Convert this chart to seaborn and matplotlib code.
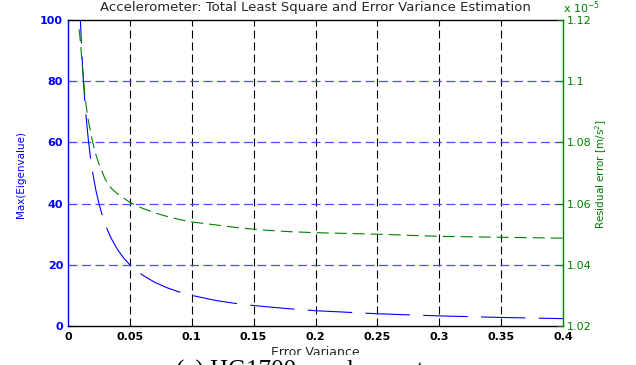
import matplotlib
matplotlib.use("Agg")
import matplotlib.pyplot as plt
import matplotlib.ticker as mticker
import numpy as np
import pandas as pd
import seaborn as sns

# ---- data ----
error_variance = [0.009, 0.01, 0.011, 0.012, 0.0135, 0.015, 0.0165, 0.018, 0.02,
                  0.0225, 0.025, 0.0275, 0.03, 0.0325, 0.035, 0.04, 0.045, 0.05,
                  0.055, 0.06, 0.07, 0.08, 0.09, 0.1, 0.12, 0.14, 0.16, 0.18, 0.2,
                  0.25, 0.3, 0.35, 0.4]
max_eigenvalue = [108, 100, 91, 83, 74, 66.7, 60.6, 55.6, 50,
                  44.4, 40, 36.4, 33.3, 30.8, 28.6, 25, 22.2, 20,
                  18.2, 16.7, 14.3, 12.5, 11.1, 10, 8.3, 7.1, 6.3, 5.6, 5.0,
                  4.0, 3.3, 2.8, 2.4]
residual_error = [1.117, 1.113, 1.108, 1.103, 1.096, 1.091, 1.087, 1.084, 1.080,
                  1.076, 1.073, 1.0705, 1.068, 1.0665, 1.065, 1.0632, 1.0618, 1.0604,
                  1.0594, 1.0585, 1.0570, 1.0558, 1.0548, 1.0540, 1.0530, 1.0520,
                  1.0513, 1.0508, 1.0505, 1.0500, 1.0493, 1.0490, 1.0487]

x_ticks = [0, 0.05, 0.1, 0.15, 0.2, 0.25, 0.3, 0.35, 0.4]
left_ticks = [0, 20, 40, 60, 80, 100]
right_ticks = [1.02, 1.04, 1.06, 1.08, 1.10, 1.12]
right_tick_labels = ["1.02", "1.04", "1.06", "1.08", "1.1", "1.12"]

title = "Accelerometer: Total Least Square and Error Variance Estimation"
xlabel = "Error Variance"
ylabel_left = "Max(Eigenvalue)"
ylabel_right = "Residual error [m/s$^2$]"
caption = "(a) HG1700 accelerometers"

df = pd.DataFrame({"x": error_variance, "eig": max_eigenvalue, "res": residual_error})

sns.set_style("white")
plt.rcParams["font.family"] = ["DejaVu Sans"]

BLUE = "#0000ff"
GREEN = "#008000"
W, H = 636, 365

fig = plt.figure(figsize=(W / 100, H / 100), dpi=100)
ax = fig.add_axes([68 / W, 1 - 326 / H, 495 / W, 306 / H])

sns.lineplot(data=df, x="x", y="eig", ax=ax, color=BLUE, linewidth=0.8,
             linestyle=(0, (40, 12)), zorder=3)
ax.set_xlim(0, 0.4)
ax.set_ylim(0, 100)
ax.set_xticks(x_ticks)
ax.set_yticks(left_ticks)
ax.xaxis.set_major_formatter(mticker.FormatStrFormatter("%g"))
ax.set_xlabel("")
ax.set_ylabel("")

ax.grid(False)
for xv in x_ticks[1:-1]:
    ax.axvline(xv, color="black", linewidth=0.8, linestyle=(0, (7.2, 3.6)), zorder=1)
for yv in left_ticks[1:-1]:
    ax.axhline(yv, color="#4d4dff", linewidth=0.9, linestyle=(0, (7.2, 3.6)), zorder=1)

ax.tick_params(axis="x", direction="in", length=4, width=0.8, colors="black",
               labelsize=8, pad=4.5, top=False)
ax.tick_params(axis="y", direction="in", length=4, width=0.8, colors=BLUE,
               labelsize=8, pad=3.5)
for lab in ax.get_xticklabels() + ax.get_yticklabels():
    lab.set_fontweight("bold")

ax.spines["left"].set_color(BLUE)
ax.spines["bottom"].set_color("black")
ax.spines["top"].set_color("black")
ax.spines["right"].set_visible(False)
for s in ax.spines.values():
    s.set_linewidth(1.0)

ax2 = ax.twinx()
sns.lineplot(data=df, x="x", y="res", ax=ax2, color=GREEN, linewidth=0.8,
             linestyle=(0, (10.8, 5.4)))
ax2.set_ylim(1.02, 1.12)
ax2.set_yticks(right_ticks)
ax2.set_yticklabels(right_tick_labels)
ax2.set_ylabel("")
ax2.grid(False)
ax2.tick_params(axis="y", direction="in", length=4, width=0.8, colors=GREEN,
                labelsize=8, pad=2.5)
for lab in ax2.get_yticklabels():
    lab.set_fontweight("normal")
for k in ["left", "top", "bottom"]:
    ax2.spines[k].set_visible(False)
ax2.spines["right"].set_color(GREEN)
ax2.spines["right"].set_linewidth(1.0)

ax.set_title(title, fontsize=9.5, pad=0, y=1 + 9 / 306, va="baseline")
fig.text(315.5 / W, 1 - 346 / H, xlabel, ha="center", va="top", fontsize=9)
fig.text(21 / W, 1 - 174 / H, ylabel_left, rotation=90, ha="center", va="center",
         fontsize=7.5, color=BLUE)
fig.text(601 / W, 1 - 174 / H, ylabel_right, rotation=90, ha="center", va="center",
         fontsize=7.5, color=GREEN)
fig.text(563 / W, 1 - 13 / H, r"x 10$^{-5}$", ha="left", va="baseline",
         fontsize=8, color=GREEN)
fig.text(314 / W, 1 - 377.5 / H, caption, ha="center", va="baseline",
         fontsize=18, family=["Liberation Serif"], color="black",
         bbox=dict(facecolor="white", edgecolor="none", boxstyle="square,pad=0.2"))

fig.savefig("out.png", dpi=100)
